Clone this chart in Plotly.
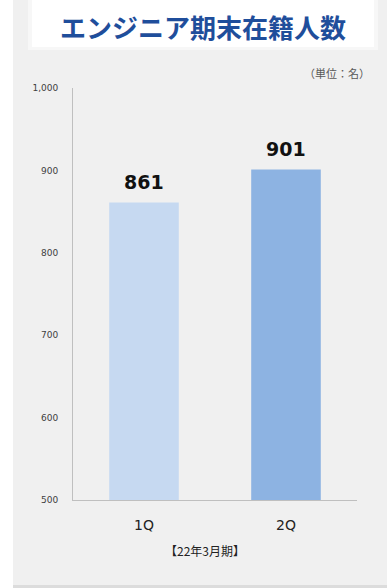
import plotly.graph_objects as go

categories = ["1Q", "2Q"]
values = [861, 901]
bar_colors = ["#c6d9f1", "#8db3e2"]
y_ticks = [500, 600, 700, 800, 900, 1000]
title_text = "エンジニア期末在籍人数"
unit_text = "（単位：名）"
period_text = "【22年3月期】"

W, H = 387, 588
L, R, T, B = 73, 30, 88, 88
pw, ph = W - L - R, H - T - B

def px(x):
    return (x - L) / pw

def py(y):
    return (H - B - y) / ph

fig = go.Figure()
fig.add_trace(go.Bar(
    x=categories, y=values,
    marker=dict(color=bar_colors, line=dict(width=0)),
    width=0.49,
    hoverinfo="skip",
))

for c, v in zip(categories, values):
    fig.add_annotation(x=c, y=v, xref="x", yref="y", text=f"<b>{v}</b>",
                       showarrow=False, yanchor="bottom", yshift=8,
                       font=dict(family="DejaVu Sans", size=19, color="#111111"))

shapes = [
    dict(type="rect", xref="paper", yref="paper", x0=px(13), x1=px(387), y0=py(585), y1=py(0),
         fillcolor="#f0f0f0", line=dict(width=0), layer="below"),
    dict(type="rect", xref="paper", yref="paper", x0=px(13), x1=px(387), y0=py(588), y1=py(585),
         fillcolor="#dcdcdc", line=dict(width=0), layer="below"),
    dict(type="rect", xref="paper", yref="paper", x0=px(28), x1=px(378), y0=py(50), y1=py(0),
         fillcolor="#f7f7f7", line=dict(width=0), layer="below"),
    dict(type="rect", xref="paper", yref="paper", x0=px(32), x1=px(374), y0=py(47), y1=py(0),
         fillcolor="#ffffff", line=dict(width=0), layer="below"),
]

fig.add_annotation(x=px(203), y=py(26), xref="paper", yref="paper", text=f"<b>{title_text}</b>",
                   showarrow=False, xanchor="center", yanchor="middle",
                   font=dict(family="Noto Sans CJK JP", size=26, color="#1f4e9b"))
fig.add_annotation(x=px(372), y=py(73), xref="paper", yref="paper", text=unit_text,
                   showarrow=False, xanchor="right", yanchor="middle",
                   font=dict(family="Noto Sans CJK JP", size=11, color="#595959"))
fig.add_annotation(x=px(205), y=py(550), xref="paper", yref="paper", text=period_text,
                   showarrow=False, xanchor="center", yanchor="middle",
                   font=dict(family="Noto Sans CJK JP", size=12, color="#222222"))

fig.update_layout(
    width=W, height=H,
    margin=dict(l=L, r=R, t=T, b=B, pad=0),
    paper_bgcolor="#ffffff",
    plot_bgcolor="rgba(0,0,0,0)",
    shapes=shapes,
    showlegend=False,
    bargap=0.51,
    xaxis=dict(showgrid=False, showline=True, linecolor="#bfbfbf", linewidth=1,
               ticks="", ticklabelstandoff=12,
               tickfont=dict(family="DejaVu Sans", size=14, color="#222222"),
               fixedrange=True),
    yaxis=dict(range=[500, 1000], tickvals=y_ticks, tickformat=",", showgrid=False,
               showline=True, linecolor="#bfbfbf", linewidth=1, ticks="",
               ticklabelstandoff=12,
               tickfont=dict(family="DejaVu Sans", size=9, color="#404040"),
               zeroline=False, fixedrange=True),
)

fig.write_html("out.html", config={"displayModeBar": False})
